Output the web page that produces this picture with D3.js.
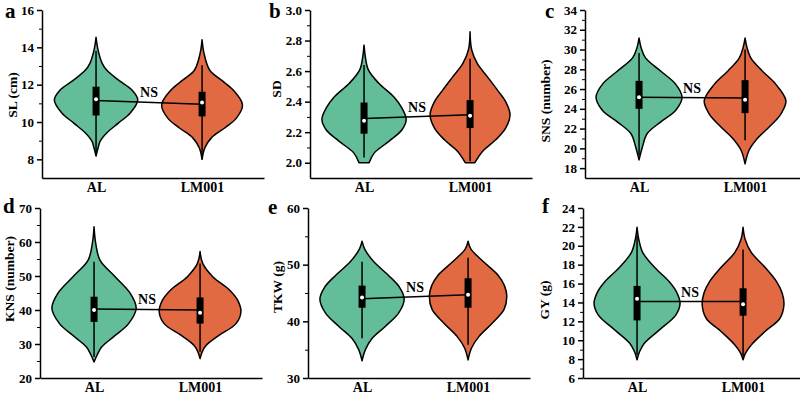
<!DOCTYPE html>
<html>
<head>
<meta charset="utf-8">
<script src="https://cdn.jsdelivr.net/npm/d3@7"></script>
<style>
  body { margin: 0; background: #fff; }
  svg { display: block; }
  text { font-family: "Liberation Serif", "Times New Roman", serif; font-weight: bold; }
</style>
</head>
<body>
<svg id="chart" width="800" height="394"></svg>
<script>
// ---- data ----
const groups = ["AL", "LM001"];
const panelLetters = ["a", "b", "c", "d", "e", "f"];
const traitTitles = ["SL (cm)", "SD", "SNS (number)", "KNS (number)", "TKW (g)", "GY (g)"];
const yDomains = [[7, 16], [1.9, 3.0], [17, 34], [20, 70], [30, 60], [6, 24]];
const majorTicks = [
  [8, 10, 12, 14, 16],
  [2.0, 2.2, 2.4, 2.6, 2.8, 3.0],
  [18, 20, 22, 24, 26, 28, 30, 32, 34],
  [20, 30, 40, 50, 60, 70],
  [30, 40, 50, 60],
  [6, 8, 10, 12, 14, 16, 18, 20, 22, 24]
];
const minorTicks = [
  [9, 11, 13, 15],
  [2.1, 2.3, 2.5, 2.7, 2.9],
  [19, 21, 23, 25, 27, 29, 31, 33],
  [25, 35, 45, 55, 65],
  [35, 45, 55],
  [7, 9, 11, 13, 15, 17, 19, 21, 23]
];
const tickFormats = ["d", ".1f", "d", "d", "d", "d"];

// box (q1, q3), whisker ends, mean dot, and the value the connecting line goes through
const boxLow = [[10.35, 10.3], [2.19, 2.227], [24.0, 23.56], [36.5, 36.0], [42.4, 42.4], [12.1, 12.6]];
const boxHigh = [[11.89, 11.62], [2.394, 2.41], [26.83, 26.9], [43.9, 43.7], [46.3, 47.6], [15.75, 15.5]];
const whiskerLow = [[8.2, 8.0], [2.035, 2.01], [19.3, 20.83], [26.2, 27.7], [37.0, 35.85], [8.45, 8.3]];
const whiskerHigh = [[13.8, 13.04], [2.64, 2.68], [29.66, 30.0], [54.2, 53.7], [50.5, 51.2], [21.1, 19.6]];
const meanDots = [[11.22, 11.04], [2.275, 2.307], [25.16, 24.93], [40.0, 39.2], [44.2, 44.7], [14.4, 13.8]];
const lineValues = [[11.15, 10.95], [2.29, 2.314], [25.16, 25.1], [40.3, 40.0], [44.0, 44.7], [14.1, 14.1]];
const sigLabels = ["NS", "NS", "NS", "NS", "NS", "NS"];

// violin outlines: [value, relative density], plus the peak density of each violin
const densityPeak = [[0.97, 0.94], [0.98, 0.93], [1, 0.95], [0.98, 0.95], [0.98, 0.9], [1, 0.95]];
const violinOutlines = [
  [
    [[14.54, 0], [13.84, 0.05], [13.13, 0.15], [12.77, 0.26], [12.24, 0.54], [11.71, 0.86], [11.18, 1], [10.48, 0.82], [9.95, 0.54], [9.42, 0.26], [8.97, 0.1], [8.62, 0.05], [8.18, 0]],
    [[14.4, 0], [13.66, 0.05], [12.77, 0.19], [12.24, 0.48], [11.71, 0.77], [10.92, 1], [10.21, 0.85], [9.68, 0.56], [9.15, 0.23], [8.62, 0.07], [8.0, 0]]
  ],
  [
    [[2.77, 0], [2.695, 0.03], [2.61, 0.1], [2.52, 0.35], [2.43, 0.71], [2.357, 0.9], [2.285, 1], [2.216, 0.9], [2.14, 0.59], [2.063, 0.24], [2.0, 0.12]],
    [[2.858, 0], [2.74, 0.04], [2.65, 0.18], [2.564, 0.43], [2.477, 0.68], [2.40, 0.89], [2.314, 1], [2.227, 0.89], [2.15, 0.64], [2.074, 0.31], [2.0, 0.12]]
  ],
  [
    [[31.16, 0], [30.16, 0.05], [29.16, 0.15], [27.83, 0.5], [26.5, 0.85], [25.16, 1], [23.83, 0.85], [22.66, 0.5], [21.5, 0.19], [20.16, 0.08], [18.83, 0]],
    [[31.16, 0], [30.16, 0.05], [29.16, 0.14], [27.83, 0.42], [26.5, 0.75], [24.83, 1], [23.5, 0.88], [22.16, 0.59], [21.0, 0.3], [19.83, 0.1], [18.43, 0]]
  ],
  [
    [[64.5, 0], [59.6, 0.04], [54.7, 0.14], [49.8, 0.5], [44.9, 0.86], [40.5, 1], [36.0, 0.82], [32.1, 0.46], [29.1, 0.18], [26.7, 0.07], [24.7, 0]],
    [[57.2, 0], [53.7, 0.065], [49.8, 0.31], [45.9, 0.72], [42.9, 0.92], [39.5, 1], [36.0, 0.88], [32.6, 0.47], [29.6, 0.15], [27.6, 0.05], [25.7, 0]]
  ],
  [
    [[54.15, 0], [52.8, 0.06], [50.5, 0.28], [48.1, 0.63], [46.0, 0.89], [43.9, 1], [41.5, 0.87], [39.1, 0.55], [37.0, 0.24], [35.0, 0.08], [33.04, 0]],
    [[54.15, 0], [52.8, 0.07], [50.5, 0.4], [48.1, 0.78], [46.3, 0.94], [44.5, 1], [42.1, 0.93], [39.7, 0.63], [37.3, 0.28], [35.3, 0.09], [33.2, 0]]
  ],
  [
    [[21.96, 0], [20.7, 0.04], [19.3, 0.13], [17.75, 0.4], [16.2, 0.75], [15.1, 0.92], [13.9, 1], [12.66, 0.9], [11.1, 0.52], [9.68, 0.17], [8.8, 0.06], [7.93, 0]],
    [[21.96, 0], [20.7, 0.05], [19.3, 0.2], [17.75, 0.53], [16.2, 0.82], [14.95, 0.96], [13.7, 1], [12.3, 0.9], [10.9, 0.53], [9.5, 0.2], [8.63, 0.06], [7.93, 0]]
  ]
];

// ---- layout ----
const colors = ["#62bd98", "#e26a43"];
const axisX = [42, 310, 585, 40, 308, 583];
const rowRange = [[178, 10], [378, 208]];
const xLength = 222;
const titlePos = [[12, 95], [276, 89], [545, 101], [9, 279], [277, 287], [544, 300]];
const letterPos = [[5, 18], [269, 18], [545, 18], [3, 213], [268, 214], [542, 213]];
const maxHalfWidth = 43;

const svg = d3.select("#chart");

const widthScale = d3.scaleLinear().domain([0, 1]).range([0, maxHalfWidth]);

panelLetters.forEach((letter, p) => {
  const row = p < 3 ? 0 : 1;
  const x0 = axisX[p];
  const g = svg.append("g");

  const y = d3.scaleLinear().domain(yDomains[p]).range(rowRange[row]);
  const x = d3.scalePoint()
    .domain(groups)
    .range([x0, x0 + xLength])
    .padding(0.547)
    .align(0.466);

  // violins
  groups.forEach((grp, i) => {
    const cx = x(grp);
    const peak = densityPeak[p][i];
    const area = d3.area()
      .curve(d3.curveCatmullRom.alpha(0.5))
      .y(d => y(d[0]))
      .x0(d => cx - widthScale(d[1] * peak))
      .x1(d => cx + widthScale(d[1] * peak));
    g.append("path")
      .datum(violinOutlines[p][i])
      .attr("d", area)
      .attr("fill", colors[i])
      .attr("stroke", "#000")
      .attr("stroke-width", 1.5)
      .attr("stroke-linejoin", "round");
  });

  // line joining the groups
  g.append("path")
    .datum(groups.map((grp, i) => [x(grp), y(lineValues[p][i])]))
    .attr("d", d3.line())
    .attr("fill", "none")
    .attr("stroke", "#000")
    .attr("stroke-width", 1.5);

  // whiskers, boxes, mean dots
  groups.forEach((grp, i) => {
    const cx = x(grp);
    g.append("line")
      .attr("x1", cx).attr("x2", cx)
      .attr("y1", y(whiskerHigh[p][i])).attr("y2", y(whiskerLow[p][i]))
      .attr("stroke", "#000").attr("stroke-width", 1.5);
    g.append("rect")
      .attr("x", cx - 3.5)
      .attr("width", 7)
      .attr("y", y(boxHigh[p][i]))
      .attr("height", y(boxLow[p][i]) - y(boxHigh[p][i]))
      .attr("fill", "#000");
    g.append("circle")
      .attr("cx", cx)
      .attr("cy", y(meanDots[p][i]))
      .attr("r", 2)
      .attr("fill", "#fff");
  });

  // significance label
  const midX = (x(groups[0]) + x(groups[1])) / 2;
  const midY = (y(lineValues[p][0]) + y(lineValues[p][1])) / 2;
  g.append("text")
    .attr("x", midX)
    .attr("y", midY - 5)
    .attr("text-anchor", "middle")
    .attr("font-size", 14)
    .text(sigLabels[p]);

  // y axis
  const yAxis = g.append("g")
    .attr("transform", `translate(${x0},0)`)
    .call(d3.axisLeft(y)
      .tickValues(majorTicks[p])
      .tickFormat(d3.format(tickFormats[p]))
      .tickSize(5)
      .tickSizeOuter(0)
      .tickPadding(3));
  yAxis.selectAll("text")
    .attr("font-size", 13)
    .attr("font-family", "Liberation Serif, serif")
    .attr("font-weight", "bold")
    .attr("fill", "#000");
  yAxis.selectAll("path, line").attr("stroke", "#000").attr("stroke-width", 1.5);

  const yMinor = g.append("g")
    .attr("transform", `translate(${x0},0)`)
    .call(d3.axisLeft(y).tickValues(minorTicks[p]).tickFormat("").tickSize(3).tickSizeOuter(0));
  yMinor.select(".domain").remove();
  yMinor.selectAll("line").attr("stroke", "#000").attr("stroke-width", 1);

  // x axis
  const xAxis = g.append("g")
    .attr("transform", `translate(0,${rowRange[row][0]})`)
    .call(d3.axisBottom(x).tickSize(0).tickSizeOuter(0).tickPadding(0));
  xAxis.selectAll("text")
    .attr("font-size", 14)
    .attr("font-family", "Liberation Serif, serif")
    .attr("font-weight", "bold")
    .attr("fill", "#000")
    .attr("y", 14)
    .attr("dy", 0);
  xAxis.select(".domain").attr("stroke", "#000").attr("stroke-width", 1.5);

  // y title
  g.append("text")
    .attr("transform", `translate(${titlePos[p][0]},${titlePos[p][1]}) rotate(-90)`)
    .attr("text-anchor", "middle")
    .attr("dy", "0.35em")
    .attr("font-size", 13.5)
    .text(traitTitles[p]);

  // panel letter
  g.append("text")
    .attr("x", letterPos[p][0])
    .attr("y", letterPos[p][1])
    .attr("font-size", 21)
    .text(letter);
});
</script>
</body>
</html>
